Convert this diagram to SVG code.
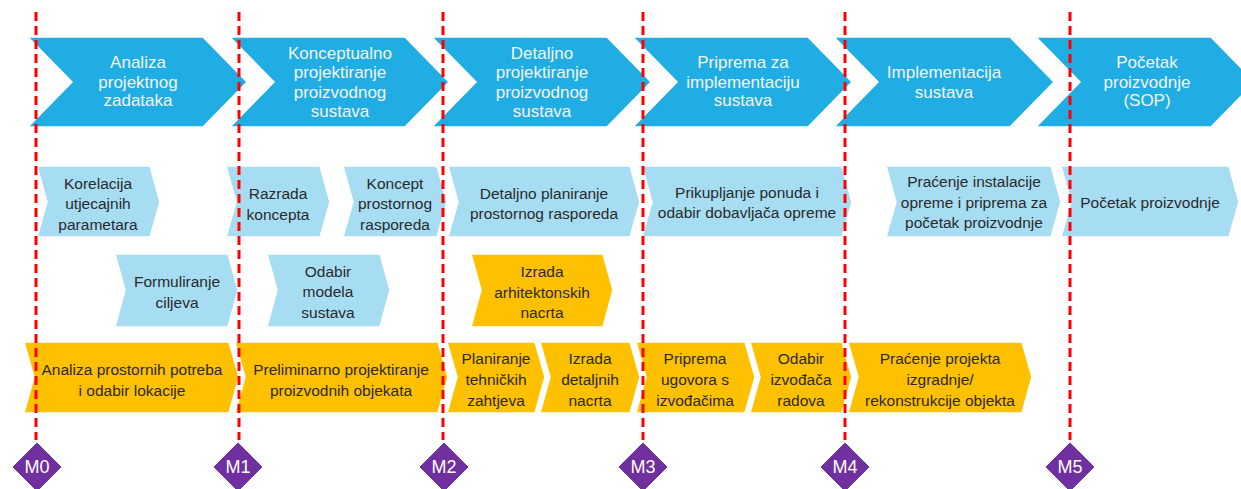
<svg xmlns="http://www.w3.org/2000/svg" width="1241" height="489" viewBox="0 0 1241 489">
<style>
.phase{fill:#1FADE3;stroke:#fff;stroke-width:1.5}
.act{fill:#A6DDF3;stroke:#fff;stroke-width:1.5}
.con{fill:#FFC000;stroke:#fff;stroke-width:1.5}
.ms{fill:#7030A0;stroke:#fff;stroke-width:1}
.tw{font-family:"Liberation Sans",Arial,sans-serif;font-size:17px;fill:#F4F4F4;text-anchor:middle}
.td{font-family:"Liberation Sans",Arial,sans-serif;font-size:15.5px;fill:#2A2A2A;text-anchor:middle}
.tm{font-family:"Liberation Sans",Arial,sans-serif;font-size:18px;fill:#fff;text-anchor:middle}
.dash{stroke:#FF0000;stroke-width:3;stroke-dasharray:9 5;fill:none}
</style>
<rect width="1241" height="489" fill="#fff"/>
<g id="phases">
<g id="p1"><polygon class="phase" points="28,37 203,37 247,82 203,127 28,127 72,82"/><text class="tw"><tspan x="138" y="68">Analiza</tspan><tspan x="138" y="88">projektnog</tspan><tspan x="138" y="106">zadataka</tspan></text></g>
<g id="p2"><polygon class="phase" points="230,37 405,37 449,82 405,127 230,127 274,82"/><text class="tw"><tspan x="340" y="59">Konceptualno</tspan><tspan x="340" y="78">projektiranje</tspan><tspan x="340" y="98">proizvodnog</tspan><tspan x="340" y="117">sustava</tspan></text></g>
<g id="p3"><polygon class="phase" points="432,37 607,37 651,82 607,127 432,127 476,82"/><text class="tw"><tspan x="542" y="59">Detaljno</tspan><tspan x="542" y="78">projektiranje</tspan><tspan x="542" y="98">proizvodnog</tspan><tspan x="542" y="117">sustava</tspan></text></g>
<g id="p4"><polygon class="phase" points="633,37 808,37 852,82 808,127 633,127 677,82"/><text class="tw"><tspan x="743" y="68">Priprema za</tspan><tspan x="743" y="88">implementaciju</tspan><tspan x="743" y="106">sustava</tspan></text></g>
<g id="p5"><polygon class="phase" points="834,37 1010,37 1054,82 1010,127 834,127 878,82"/><text class="tw"><tspan x="944" y="78">Implementacija</tspan><tspan x="944" y="98">sustava</tspan></text></g>
<g id="p6"><polygon class="phase" points="1036,37 1211,37 1255,82 1211,127 1036,127 1080,82"/><text class="tw"><tspan x="1147" y="68">Početak</tspan><tspan x="1147" y="88">proizvodnje</tspan><tspan x="1147" y="106">(SOP)</tspan></text></g>
</g>
<g id="activities">
<g id="a1"><polygon class="act" points="37,166 150,166 160,202 150,237 37,237 47,202"/><text class="td"><tspan x="98" y="189">Korelacija</tspan><tspan x="98" y="209">utjecajnih</tspan><tspan x="98" y="230">parametara</tspan></text></g>
<g id="a2"><polygon class="act" points="226,166 320,166 330,202 320,237 226,237 236,202"/><text class="td"><tspan x="278" y="199">Razrada</tspan><tspan x="278" y="220">koncepta</tspan></text></g>
<g id="a3"><polygon class="act" points="343,166 437,166 447,202 437,237 343,237 353,202"/><text class="td"><tspan x="395" y="189">Koncept</tspan><tspan x="395" y="209">prostornog</tspan><tspan x="395" y="230">rasporeda</tspan></text></g>
<g id="a4"><polygon class="act" points="448,166 630,166 640,202 630,237 448,237 458,202"/><text class="td"><tspan x="544" y="199">Detaljno planiranje</tspan><tspan x="544" y="219">prostornog rasporeda</tspan></text></g>
<g id="a5"><polygon class="act" points="642,166 842,166 852,202 842,237 642,237 652,202"/><text class="td"><tspan x="747" y="198">Prikupljanje ponuda i</tspan><tspan x="747" y="218">odabir dobavljača opreme</tspan></text></g>
<g id="a6"><polygon class="act" points="886,166 1051,166 1061,202 1051,237 886,237 896,202"/><text class="td"><tspan x="974" y="187">Praćenje instalacije</tspan><tspan x="974" y="208">opreme i priprema za</tspan><tspan x="974" y="228">početak proizvodnje</tspan></text></g>
<g id="a7"><polygon class="act" points="1061,166 1229,166 1239,202 1229,237 1061,237 1071,202"/><text class="td"><tspan x="1150" y="208">Početak proizvodnje</tspan></text></g>
<g id="a8"><polygon class="act" points="115,254 228,254 238,290 228,327 115,327 125,290"/><text class="td"><tspan x="177" y="287">Formuliranje</tspan><tspan x="177" y="308">ciljeva</tspan></text></g>
<g id="a9"><polygon class="act" points="267,254 380,254 390,290 380,327 267,327 277,290"/><text class="td"><tspan x="328" y="277">Odabir</tspan><tspan x="328" y="297">modela</tspan><tspan x="328" y="318">sustava</tspan></text></g>
<g id="a10"><polygon class="con" points="471,254 603,254 613,290 603,327 471,327 481,290"/><text class="td"><tspan x="542" y="277">Izrada</tspan><tspan x="542" y="298">arhitektonskih</tspan><tspan x="542" y="318">nacrta</tspan></text></g>
</g>
<g id="construction">
<g id="c1"><polygon class="con" points="24,342 229,342 239,377 229,413 24,413 34,377"/><text class="td"><tspan x="132" y="375">Analiza prostornih potreba</tspan><tspan x="132" y="396">i odabir lokacije</tspan></text></g>
<g id="c2"><polygon class="con" points="235,342 438,342 448,377 438,413 235,413 245,377"/><text class="td"><tspan x="341" y="375">Preliminarno projektiranje</tspan><tspan x="341" y="396">proizvodnih objekata</tspan></text></g>
<g id="c3"><polygon class="con" points="447,342 535,342 545,377 535,413 447,413 457,377"/><text class="td"><tspan x="496" y="364">Planiranje</tspan><tspan x="496" y="385">tehničkih</tspan><tspan x="496" y="406">zahtjeva</tspan></text></g>
<g id="c4"><polygon class="con" points="540,342 630,342 640,377 630,413 540,413 550,377"/><text class="td"><tspan x="590" y="364">Izrada</tspan><tspan x="590" y="385">detaljnih</tspan><tspan x="590" y="406">nacrta</tspan></text></g>
<g id="c5"><polygon class="con" points="636,342 745,342 755,377 745,413 636,413 646,377"/><text class="td"><tspan x="695" y="364">Priprema</tspan><tspan x="695" y="385">ugovora s</tspan><tspan x="695" y="406">izvođačima</tspan></text></g>
<g id="c6"><polygon class="con" points="750,342 842,342 852,377 842,413 750,413 760,377"/><text class="td"><tspan x="801" y="364">Odabir</tspan><tspan x="801" y="385">izvođača</tspan><tspan x="801" y="406">radova</tspan></text></g>
<g id="c7"><polygon class="con" points="848,342 1022,342 1032,377 1022,413 848,413 858,377"/><text class="td"><tspan x="940" y="364">Praćenje projekta</tspan><tspan x="940" y="385">izgradnje/</tspan><tspan x="940" y="406">rekonstrukcije objekta</tspan></text></g>
</g>
<g id="connectors">
<line class="dash" x1="36" y1="12" x2="36" y2="440"/>
<line class="dash" x1="239" y1="12" x2="239" y2="440"/>
<line class="dash" x1="443" y1="12" x2="443" y2="440"/>
<line class="dash" x1="643" y1="12" x2="643" y2="440"/>
<line class="dash" x1="845" y1="12" x2="845" y2="440"/>
<line class="dash" x1="1070" y1="12" x2="1070" y2="440"/>
</g>
<g id="milestones">
<g id="m0"><polygon class="ms" points="37,442 62,467 37,492 12,467"/><text class="tm" x="37" y="473">M0</text></g>
<g id="m1"><polygon class="ms" points="238,442 263,467 238,492 213,467"/><text class="tm" x="238" y="473">M1</text></g>
<g id="m2"><polygon class="ms" points="444,442 469,467 444,492 419,467"/><text class="tm" x="444" y="473">M2</text></g>
<g id="m3"><polygon class="ms" points="643,442 668,467 643,492 618,467"/><text class="tm" x="643" y="473">M3</text></g>
<g id="m4"><polygon class="ms" points="845,442 870,467 845,492 820,467"/><text class="tm" x="845" y="473">M4</text></g>
<g id="m5"><polygon class="ms" points="1070,442 1095,467 1070,492 1045,467"/><text class="tm" x="1070" y="473">M5</text></g>
</g>
</svg>
